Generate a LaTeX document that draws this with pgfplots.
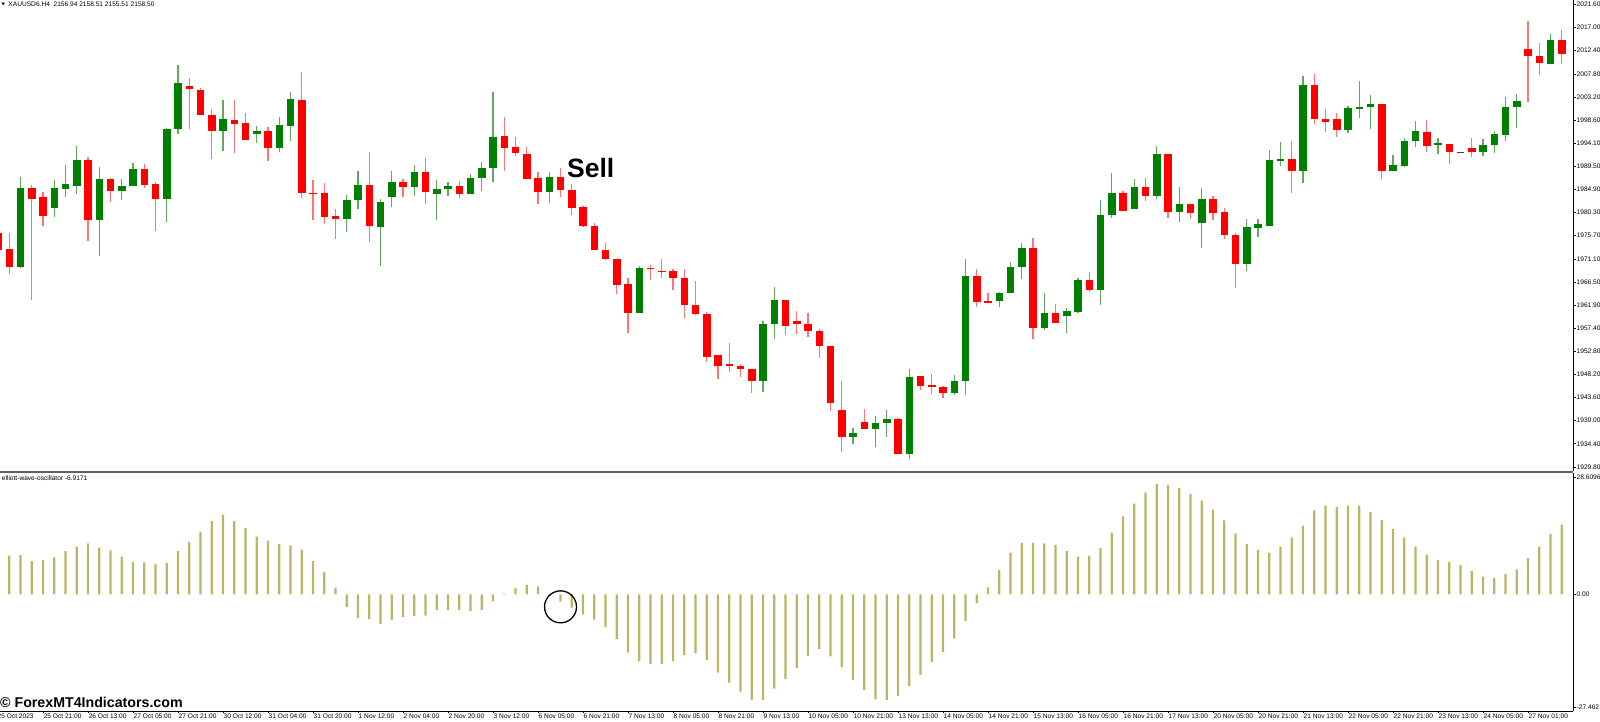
\documentclass[border=0pt]{standalone}
\usepackage{fontspec}
\setmainfont{Liberation Sans}
\usepackage{pgfplots}
\usepackage{pgfplotstable}
\pgfplotsset{compat=1.18}
\definecolor{cred}{RGB}{255,0,0}
\definecolor{cgreen}{RGB}{0,128,0}
\definecolor{wred}{RGB}{255,115,115}
\definecolor{wgreen}{RGB}{95,170,95}
\definecolor{osc}{RGB}{189,181,102}
\definecolor{sep}{RGB}{95,95,95}
\newcommand{\tl}{\fontsize{6.6}{7}\selectfont}
\pgfplotsset{candle/.style={draw=none, mark=none, forget plot,
  error bars/.cd, y dir=plus, y explicit, error mark=none}}

\pgfplotstableread{
x o h l c
-1 1976.15 1976.81 1972.18 1972.84
0 1972.98 1976.15 1968.08 1969.41
2 1985.08 1985.74 1962.92 1982.96
3 1983.30 1984.42 1977.61 1979.59
7 1990.77 1991.37 1974.63 1978.80
9 1987.00 1987.20 1982.30 1984.62
12 1988.92 1989.84 1985.21 1985.81
13 1985.94 1986.27 1976.68 1982.96
16 2005.32 2006.97 1996.92 2004.79
17 2004.66 2004.92 1999.57 1999.57
18 1999.70 2000.82 1990.90 1996.52
20 1998.57 2002.67 1992.03 1997.91
21 1998.04 2000.03 1994.67 1994.67
23 1996.52 1997.25 1990.50 1993.02
26 2002.67 2008.23 1983.10 1984.09
27 1984.22 1986.73 1978.80 1983.89
28 1984.09 1986.21 1977.94 1979.46
29 1979.59 1980.98 1975.09 1978.93
32 1985.74 1992.29 1974.50 1977.67
35 1986.28 1986.87 1983.30 1985.42
37 1988.26 1991.04 1981.91 1984.29
40 1985.55 1986.54 1983.23 1983.89
44 1995.53 1999.17 1988.59 1993.15
45 1993.29 1995.20 1991.57 1992.16
46 1991.90 1993.22 1986.94 1987.00
47 1987.14 1988.39 1981.91 1984.29
49 1987.27 1989.05 1983.43 1984.75
50 1984.75 1985.88 1979.79 1981.25
51 1981.31 1981.58 1977.48 1977.61
52 1977.68 1978.27 1972.78 1972.78
53 1972.85 1974.30 1970.86 1970.99
54 1970.99 1970.99 1964.05 1965.97
55 1966.10 1967.23 1956.45 1960.28
57 1969.34 1969.87 1966.90 1969.01
58 1968.75 1970.99 1967.23 1968.55
59 1968.68 1969.01 1964.91 1967.29
60 1967.29 1969.01 1959.42 1961.94
61 1962.00 1966.70 1959.88 1960.08
62 1960.15 1960.48 1950.69 1951.68
63 1951.95 1951.95 1947.25 1949.83
64 1950.16 1954.46 1948.57 1949.83
65 1949.83 1950.23 1947.65 1949.17
66 1949.17 1949.17 1944.41 1946.85
69 1962.93 1962.93 1955.98 1957.77
70 1958.76 1960.78 1956.25 1958.17
71 1958.23 1960.28 1955.51 1956.77
72 1956.84 1957.17 1951.35 1953.86
73 1953.86 1953.86 1940.96 1942.42
74 1941.03 1946.85 1932.70 1935.67
76 1938.78 1941.23 1937.33 1937.33
79 1939.38 1939.58 1932.37 1932.37
81 1947.78 1947.78 1945.07 1945.86
82 1946.06 1948.24 1944.21 1945.59
83 1945.59 1945.86 1943.54 1944.54
86 1967.69 1969.07 1961.60 1962.59
87 1962.72 1964.38 1962.33 1962.33
91 1973.17 1975.23 1955.25 1957.30
93 1960.41 1962.13 1958.29 1958.29
96 1966.83 1968.48 1964.58 1964.97
99 1984.22 1984.55 1980.52 1980.52
101 1985.28 1987.13 1982.63 1983.56
103 1991.89 1991.89 1979.26 1980.38
105 1981.97 1981.97 1978.93 1980.25
107 1982.96 1983.56 1978.80 1980.25
108 1980.32 1981.25 1975.09 1975.76
109 1975.82 1976.28 1965.24 1970.00
114 1990.90 1994.47 1984.22 1988.59
116 2005.58 2007.77 1997.78 1998.77
117 1998.77 2000.89 1996.26 1998.31
118 1998.77 1999.96 1995.33 1996.72
122 2001.81 2001.81 1986.93 1988.45
126 1996.19 1998.64 1992.22 1993.48
128 1993.88 1993.88 1989.84 1992.22
130 1993.02 1995.13 1991.36 1992.22
135 2012.79 2018.35 2002.14 2011.34
136 2011.34 2013.98 2007.57 2009.88
138 2014.51 2016.50 2009.75 2011.67
}\redtab

\pgfplotstableread{
x o h l c
1 1969.41 1987.40 1969.20 1985.21
4 1981.18 1986.73 1979.46 1985.08
5 1984.95 1989.71 1983.43 1985.94
6 1985.61 1993.55 1983.96 1990.77
8 1978.80 1989.38 1971.65 1987.00
10 1984.62 1986.87 1982.77 1985.61
11 1985.48 1990.11 1985.48 1988.92
14 1982.96 1997.12 1978.47 1996.85
15 1996.85 2009.55 1995.86 2005.92
19 1996.52 2002.67 1992.55 1998.77
22 1995.86 1997.45 1994.01 1996.46
24 1993.02 1999.30 1992.29 1997.65
25 1997.52 2004.20 1994.54 2002.81
30 1978.93 1983.76 1976.42 1982.77
31 1982.77 1988.52 1980.98 1985.74
33 1977.48 1982.90 1969.74 1982.30
34 1983.30 1988.45 1981.31 1986.34
36 1985.42 1989.71 1983.63 1988.26
38 1983.89 1986.74 1978.80 1985.02
39 1985.02 1986.28 1983.63 1985.55
41 1983.89 1987.86 1983.89 1987.14
42 1987.07 1990.38 1984.56 1989.12
43 1989.05 2004.20 1986.28 1995.34
48 1984.29 1988.39 1982.24 1987.27
56 1960.28 1969.74 1960.28 1969.34
67 1946.85 1958.76 1944.61 1958.10
68 1958.10 1965.57 1955.25 1962.93
75 1935.67 1937.53 1934.28 1936.47
77 1937.39 1939.91 1933.69 1938.45
78 1938.45 1941.10 1935.67 1939.38
80 1932.37 1949.17 1931.31 1947.71
84 1944.54 1948.04 1944.07 1946.78
85 1946.78 1970.99 1944.07 1967.69
88 1962.79 1964.51 1961.47 1964.31
89 1964.31 1970.46 1964.31 1969.54
90 1969.54 1974.17 1967.16 1973.17
92 1957.30 1964.38 1956.97 1960.28
94 1959.75 1961.27 1956.31 1960.67
95 1960.48 1967.35 1960.28 1966.89
97 1964.97 1982.76 1961.93 1979.72
98 1979.85 1988.06 1979.13 1984.22
100 1981.05 1987.00 1980.91 1985.28
102 1983.56 1993.48 1982.90 1991.89
104 1980.38 1985.41 1978.47 1981.97
106 1978.27 1985.21 1973.31 1982.96
110 1970.00 1979.06 1968.75 1977.34
111 1977.28 1979.06 1975.49 1978.07
112 1977.54 1992.75 1977.54 1990.77
113 1990.57 1994.27 1989.58 1990.84
115 1988.59 2007.44 1986.07 2005.58
119 1996.72 2001.42 1995.99 2001.02
120 2000.89 2006.44 1999.10 2001.29
121 2001.15 2003.53 1996.85 2001.81
123 1988.45 1991.63 1988.45 1989.71
124 1989.45 1995.13 1989.38 1994.41
125 1994.41 1998.51 1993.22 1996.39
127 1993.61 1995.00 1991.89 1994.01
131 1992.36 1994.87 1991.56 1993.68
132 1993.61 1996.39 1992.16 1995.80
133 1995.73 2003.20 1994.47 2001.29
134 2001.15 2003.80 1997.12 2002.34
137 2009.68 2015.70 2009.68 2014.51
}\greentab

\pgfplotstableread{
x v
0 9.41
1 9.57
2 8.10
3 8.35
4 9.00
5 10.56
6 11.62
7 12.44
8 11.37
9 10.72
10 9.17
11 7.94
12 7.77
13 7.45
14 7.61
15 10.56
16 12.77
17 15.22
18 17.84
19 19.39
20 17.84
21 16.12
22 14.08
23 13.09
24 12.27
25 11.95
26 10.88
27 8.10
28 5.48
29 1.55
30 -3.03
31 -5.81
32 -6.06
33 -7.20
34 -6.22
35 -5.56
36 -5.32
37 -5.16
38 -3.85
39 -3.85
40 -3.85
41 -4.01
42 -3.85
43 -1.72
44 0.15
45 1.55
46 2.29
47 1.92
48 -0.40
49 -1.80
50 -3.27
51 -4.91
52 -6.14
53 -8.02
54 -10.88
55 -14.24
56 -16.28
57 -17.02
58 -17.02
59 -16.28
60 -14.81
61 -14.32
62 -15.96
63 -19.07
64 -21.52
65 -23.73
66 -25.78
67 -25.78
68 -23.00
69 -20.62
70 -17.92
71 -14.98
72 -13.34
73 -15.14
74 -17.76
75 -20.87
76 -23.32
77 -25.61
78 -25.78
79 -24.80
80 -22.34
81 -19.64
82 -16.45
83 -14.08
84 -10.80
85 -6.46
86 -2.13
87 1.72
88 5.89
89 10.15
90 12.52
91 12.52
92 12.44
93 12.03
94 10.56
95 9.17
96 9.41
97 11.29
98 15.06
99 18.99
100 22.09
101 24.88
102 26.92
103 26.60
104 25.94
105 24.47
106 22.83
107 20.62
108 18.00
109 14.89
110 12.27
111 10.88
112 10.15
113 11.62
114 13.83
115 16.78
116 20.46
117 21.60
118 21.28
119 21.60
120 21.60
121 20.05
122 18.17
123 15.96
124 13.83
125 11.62
126 9.66
127 8.43
128 7.94
129 7.12
130 5.65
131 4.34
132 4.01
133 4.91
134 6.06
135 8.84
136 11.62
137 14.73
138 17.02
}\osctab

\begin{document}
\begin{tikzpicture}[x=1pt,y=1pt]
\path[use as bounding box] (0,0) rectangle (1600,722);
\begin{axis}[
  at={(0pt,251pt)}, anchor=south west, scale only axis,
  width=1573pt, height=471pt,
  xmin=-0.827, xmax=139.0, ymin=1929.0, ymax=2022.45,
  axis x line=none, axis y line*=right,
  y axis line style={-, black, line width=0.8pt},
  ytick={1929.8,1934.4,1939.0,1943.6,1948.2,1952.8,1957.4,1961.9,1966.5,1971.1,1975.7,1980.3,1984.9,1989.5,1994.1,1998.6,2003.2,2007.8,2012.4,2017.0,2021.6},
  yticklabels={1929.80,1934.40,1939.00,1943.60,1948.20,1952.80,1957.40,1961.90,1966.50,1971.10,1975.70,1980.30,1984.90,1989.50,1994.10,1998.60,2003.20,2007.80,2012.40,2017.00,2021.60},
  tick align=outside, major tick length=2.5pt,
  ytick style={black, line width=0.6pt},
  yticklabel style={font=\tl, inner sep=0pt, anchor=west, xshift=1pt},
]
% wicks
\addplot[candle, error bar style={draw=wred, solid, line width=1.2pt}]
  table[x=x, y=l, y error expr=\thisrow{h}-\thisrow{l}] {\redtab};
\addplot[candle, error bar style={draw=wgreen, solid, line width=1.2pt}]
  table[x=x, y=l, y error expr=\thisrow{h}-\thisrow{l}] {\greentab};
% bodies
\addplot[candle, error bar style={draw=cred, solid, line width=7.5pt}]
  table[x=x, y=c, y error expr=\thisrow{o}-\thisrow{c}] {\redtab};
\addplot[candle, error bar style={draw=cgreen, solid, line width=7.5pt}]
  table[x=x, y=o, y error expr=\thisrow{c}-\thisrow{o}] {\greentab};
% doji
\addplot[draw=none, mark=none, forget plot, error bars/.cd, x dir=both, x fixed=0.33, error mark=none,
  error bar style={draw=black!75, solid, line width=1pt}]
  coordinates {(129,1992.29)};
\node[anchor=base west, inner sep=0pt, font=\bfseries\fontsize{26.5}{28}\selectfont] at (axis cs:49.57,1987.33) {Sell};
\end{axis}

\begin{axis}[
  at={(0pt,11pt)}, anchor=south west, scale only axis,
  width=1573pt, height=238pt,
  xmin=-0.827, xmax=139.0, ymin=-28.44, ymax=29.58,
  axis x line*=bottom, axis y line*=right,
  axis line style={-, black, line width=0.8pt},
  xtick={3,7,...,135},
  xticklabels={25 Oct 21:00,26 Oct 13:00,27 Oct 05:00,27 Oct 21:00,30 Oct 12:00,31 Oct 04:00,31 Oct 20:00,1 Nov 12:00,2 Nov 04:00,2 Nov 20:00,3 Nov 12:00,6 Nov 05:00,6 Nov 21:00,7 Nov 13:00,8 Nov 05:00,8 Nov 21:00,9 Nov 13:00,10 Nov 05:00,10 Nov 21:00,13 Nov 13:00,14 Nov 05:00,14 Nov 21:00,15 Nov 13:00,16 Nov 05:00,16 Nov 21:00,17 Nov 13:00,20 Nov 05:00,20 Nov 21:00,21 Nov 13:00,22 Nov 05:00,22 Nov 21:00,23 Nov 13:00,24 Nov 05:00,27 Nov 01:00},
  ytick={-27.462,0,28.6096},
  yticklabels={-27.462,0.00,28.6096},
  tick align=outside, major tick length=2.5pt,
  tick style={black, line width=0.6pt},
  yticklabel style={font=\tl, inner sep=0pt, anchor=west, xshift=1pt},
  xticklabel style={font=\tl, inner sep=0pt, anchor=north west, xshift=0.5pt},
]
\addplot[ybar, bar width=2.3pt, fill=osc, draw=none] table[x=x, y=v] {\osctab};
\draw[black, line width=1.3pt] (axis cs:49,-3.05) circle[radius=16pt];
\end{axis}

% separator and texts
\draw[sep, line width=2pt] (0,250) -- (1573,250);
\fill[black] (1.4,719.3) -- (4.8,719.3) -- (3.1,716.7) -- cycle;
\node[anchor=base west, inner sep=0pt, font=\tl] at (8.3,715.6) {XAUUSD6.H4\ \ 2156.94 2158.51 2155.51 2158.50};
\node[anchor=base west, inner sep=0pt, font=\tl] at (1.7,241) {elliott-wave-oscillator -6.9171};
\node[anchor=north west, inner sep=0pt, font=\tl] at (-2.5,8.5) {25 Oct 2023};
\node[anchor=base west, inner sep=0pt, font=\bfseries\fontsize{14.2}{15}\selectfont] at (0,14) {© ForexMT4Indicators.com};
\end{tikzpicture}
\end{document}
